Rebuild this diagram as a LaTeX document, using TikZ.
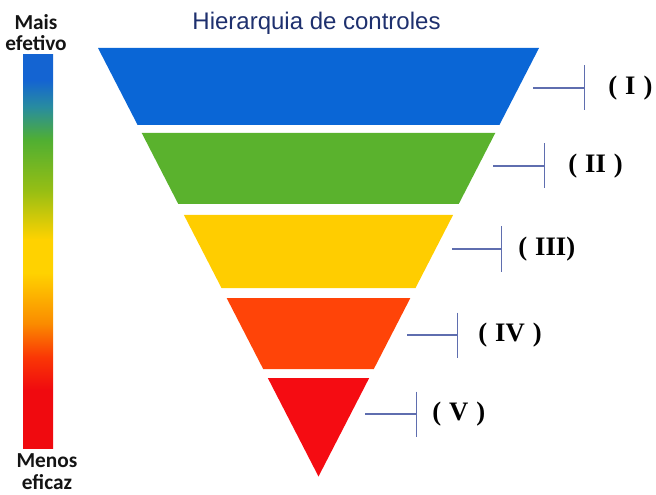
\documentclass[tikz,border=0pt]{standalone}
\usepackage{fontspec}
\setmainfont{Liberation Serif}
\newfontfamily\titlefont{Liberation Sans}
\newfontfamily\notefont{Carlito}
\usetikzlibrary{arrows.meta}

\definecolor{ctrlblue}{RGB}{10,102,214}
\definecolor{ctrlgreen}{RGB}{90,178,45}
\definecolor{ctrlyellow}{RGB}{255,205,0}
\definecolor{ctrlorange}{RGB}{255,68,8}
\definecolor{ctrlred}{RGB}{245,12,18}
\definecolor{markcol}{RGB}{95,110,175}
\definecolor{titlecol}{RGB}{30,48,110}
\definecolor{notecol}{RGB}{20,20,20}
\definecolor{barred}{RGB}{240,10,15}
\definecolor{barredorange}{RGB}{250,55,5}
\definecolor{barorange}{RGB}{250,140,0}
\definecolor{baryellow}{RGB}{255,210,0}
\definecolor{barygreen}{RGB}{150,190,20}
\definecolor{bargreen}{RGB}{80,175,50}
\definecolor{barteal}{RGB}{40,140,160}
\definecolor{barblue}{RGB}{20,100,210}

% bottom to top: red ... blue
\pgfdeclareverticalshading{barshade}{100bp}{color(0bp)=(barred); color(32.4bp)=(barred);
  color(36.6bp)=(barredorange); color(40.9bp)=(barorange); color(47.3bp)=(baryellow);
  color(51.5bp)=(baryellow); color(57.8bp)=(barygreen); color(64.2bp)=(bargreen);
  color(68.4bp)=(barteal); color(71.8bp)=(barblue); color(100bp)=(barblue)}

\newcommand{\ctrlgap}{\hspace{.3em}}

\begin{document}
\begin{tikzpicture}[x=.75pt,y=.75pt,
  ctrlmark/.style={draw=markcol,line width=1.1pt,-{Bar[width=33.75pt,line width=1.1pt]}},
  ctrllabel/.style={anchor=west,inner sep=0pt,font=\bfseries\fontsize{20}{22}\selectfont},
  sidenote/.style={align=center,inner sep=0pt,text=notecol,font=\notefont\bfseries\fontsize{16}{16}\selectfont}]
\useasboundingbox (0,0) rectangle (656,-495);
% title
\node[anchor=base,text=titlecol,font=\titlefont\fontsize{18}{20}\selectfont] (title) at (316.5,-29.5) {Hierarquia de controles};
% scale on the left
\node[sidenote] (mais) at (36,-32.6) {Mais\\efetivo};
\shade[shading=barshade] (23,-55) rectangle (53,-448);
\node[sidenote] (menos) at (47,-471.5) {Menos\\eficaz};
% bands of the inverted triangle
\foreach \ya/\yb/\col in {48/125/ctrlblue,133/204/ctrlgreen,215/288/ctrlyellow,298/369/ctrlorange,378/476.5/ctrlred}
 {\pgfmathsetmacro\wa{(476.5-\ya)*0.51459}
  \pgfmathsetmacro\wb{(476.5-\yb)*0.51459}
  \fill[\col] (318.5-\wa,-\ya)--(318.5+\wa,-\ya)--(318.5+\wb,-\yb)--(318.5-\wb,-\yb)--cycle;
 };
% markers and labels
\foreach \n/\y/\xs/\xe/\lx/\txt in {1/88/533/585/608/{(\ctrlgap I\ctrlgap)},
  2/166/493/545/568/{(\ctrlgap II\ctrlgap)},3/249/452/502/518/{(\ctrlgap III)},
  4/335/407/458/478/{(\ctrlgap IV\ctrlgap)},5/414/365/417/432/{(\ctrlgap V\ctrlgap)}}
 {\coordinate (ms\n) at (\xs,-\y);
  \coordinate (me\n) at (\xe,-\y);
  \draw[ctrlmark] (ms\n)--(me\n);
  \node[ctrllabel] (lab\n) at (\lx,-\y) {\txt};
 };
\end{tikzpicture}
\end{document}
